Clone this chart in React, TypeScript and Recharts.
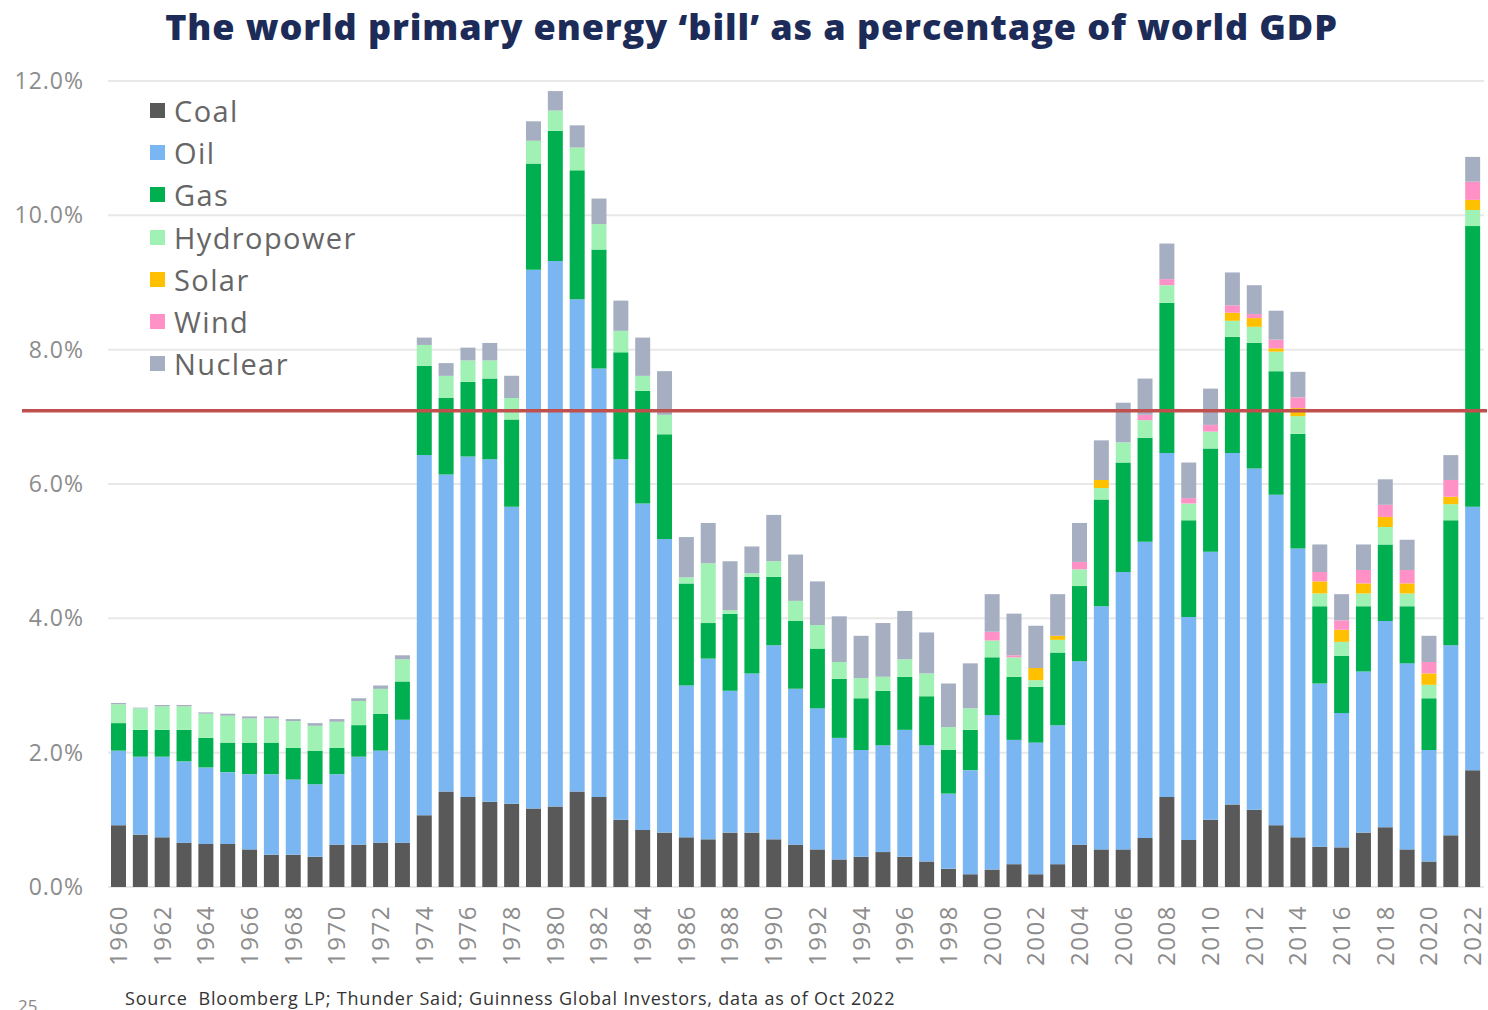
import { BarChart, Bar, XAxis, YAxis, CartesianGrid, ReferenceLine } from "recharts";

// years 1960 - 2022
const years = [
  "1960", "1961", "1962", "1963", "1964", "1965", "1966", "1967", "1968", "1969",
  "1970", "1971", "1972", "1973", "1974", "1975", "1976", "1977", "1978", "1979",
  "1980", "1981", "1982", "1983", "1984", "1985", "1986", "1987", "1988", "1989",
  "1990", "1991", "1992", "1993", "1994", "1995", "1996", "1997", "1998", "1999",
  "2000", "2001", "2002", "2003", "2004", "2005", "2006", "2007", "2008", "2009",
  "2010", "2011", "2012", "2013", "2014", "2015", "2016", "2017", "2018", "2019",
  "2020", "2021", "2022",
];

// % of world GDP, per energy source
const coal = [
  0.92, 0.78, 0.74, 0.66, 0.64, 0.64, 0.56, 0.48, 0.48, 0.45,
  0.63, 0.63, 0.66, 0.66, 1.07, 1.42, 1.34, 1.27, 1.24, 1.17,
  1.2, 1.42, 1.34, 1.0, 0.85, 0.81, 0.74, 0.71, 0.81, 0.81,
  0.71, 0.63, 0.56, 0.41, 0.45, 0.52, 0.45, 0.38, 0.27, 0.19,
  0.26, 0.34, 0.19, 0.34, 0.63, 0.56, 0.56, 0.73, 1.34, 0.7,
  1.0, 1.23, 1.15, 0.92, 0.74, 0.6, 0.59, 0.81, 0.89, 0.56,
  0.38, 0.77, 1.74,
];
const oil = [
  1.11, 1.16, 1.2, 1.21, 1.14, 1.07, 1.12, 1.2, 1.12, 1.08,
  1.05, 1.31, 1.37, 1.83, 5.36, 4.72, 5.07, 5.1, 4.42, 8.02,
  8.12, 7.33, 6.38, 5.37, 4.86, 4.37, 2.26, 2.69, 2.11, 2.37,
  2.89, 2.32, 2.1, 1.81, 1.59, 1.59, 1.89, 1.73, 1.12, 1.55,
  2.3, 1.85, 1.96, 2.07, 2.73, 3.62, 4.13, 4.41, 5.12, 3.32,
  3.99, 5.23, 5.08, 4.92, 4.3, 2.43, 2.0, 2.4, 3.07, 2.77,
  1.66, 2.83, 3.92,
];
const gas = [
  0.41, 0.4, 0.4, 0.47, 0.44, 0.44, 0.47, 0.47, 0.47, 0.5,
  0.39, 0.47, 0.55, 0.57, 1.33, 1.14, 1.11, 1.2, 1.3, 1.58,
  1.94, 1.92, 1.77, 1.59, 1.68, 1.56, 1.52, 0.53, 1.15, 1.44,
  1.02, 1.01, 0.89, 0.88, 0.77, 0.81, 0.79, 0.73, 0.65, 0.6,
  0.86, 0.94, 0.83, 1.08, 1.12, 1.59, 1.63, 1.55, 2.24, 1.44,
  1.54, 1.73, 1.87, 1.84, 1.71, 1.15, 0.85, 0.97, 1.14, 0.85,
  0.77, 1.86, 4.18,
];
const hydro = [
  0.28, 0.32, 0.35, 0.35, 0.36, 0.4, 0.36, 0.36, 0.4, 0.37,
  0.39, 0.36, 0.37, 0.33, 0.31, 0.33, 0.32, 0.27, 0.32, 0.34,
  0.3, 0.34, 0.38, 0.32, 0.22, 0.29, 0.09, 0.89, 0.05, 0.05,
  0.23, 0.3, 0.35, 0.25, 0.3, 0.21, 0.26, 0.34, 0.34, 0.32,
  0.25, 0.29, 0.1, 0.19, 0.25, 0.17, 0.3, 0.26, 0.26, 0.25,
  0.25, 0.24, 0.24, 0.29, 0.26, 0.19, 0.21, 0.19, 0.26, 0.19,
  0.2, 0.24, 0.24,
];
const solar = [
  0, 0, 0, 0, 0, 0, 0, 0, 0, 0,
  0, 0, 0, 0, 0, 0, 0, 0, 0, 0,
  0, 0, 0, 0, 0, 0, 0, 0, 0, 0,
  0, 0, 0, 0, 0, 0, 0, 0, 0, 0,
  0, 0, 0.18, 0.06, 0, 0.12, 0, 0, 0, 0,
  0, 0.12, 0.13, 0.05, 0.12, 0.18, 0.18, 0.15, 0.15, 0.15,
  0.17, 0.11, 0.15,
];
const wind = [
  0, 0, 0, 0, 0, 0, 0, 0, 0, 0,
  0, 0, 0, 0, 0, 0, 0, 0, 0, 0,
  0, 0, 0, 0, 0, 0, 0, 0, 0, 0,
  0, 0, 0, 0, 0, 0, 0, 0, 0, 0,
  0.13, 0.03, 0, 0, 0.11, 0, 0, 0.08, 0.09, 0.08,
  0.1, 0.11, 0.06, 0.13, 0.16, 0.14, 0.14, 0.2, 0.18, 0.2,
  0.17, 0.25, 0.27,
];
const nuclear = [
  0.02, 0.01, 0.02, 0.02, 0.02, 0.03, 0.03, 0.03, 0.03, 0.04,
  0.04, 0.04, 0.05, 0.06, 0.11, 0.19, 0.19, 0.26, 0.33, 0.29,
  0.29, 0.33, 0.38, 0.45, 0.57, 0.65, 0.6, 0.6, 0.73, 0.4,
  0.69, 0.69, 0.65, 0.68, 0.63, 0.8, 0.72, 0.61, 0.65, 0.67,
  0.56, 0.62, 0.63, 0.62, 0.58, 0.59, 0.59, 0.54, 0.53, 0.53,
  0.54, 0.49, 0.43, 0.43, 0.38, 0.41, 0.39, 0.38, 0.38, 0.45,
  0.39, 0.37, 0.37,
];

const yTicks = [0, 2, 4, 6, 8, 10, 12];
const threshold = 7.09;

const series = [
  { key: "coal", name: "Coal", color: "#595959" },
  { key: "oil", name: "Oil", color: "#79b6f2" },
  { key: "gas", name: "Gas", color: "#00b050" },
  { key: "hydro", name: "Hydropower", color: "#a0f2b4" },
  { key: "solar", name: "Solar", color: "#ffc000" },
  { key: "wind", name: "Wind", color: "#ff91c6" },
  { key: "nuclear", name: "Nuclear", color: "#a6afc1" },
];

const data = years.map((year, i) => ({
  year,
  coal: coal[i],
  oil: oil[i],
  gas: gas[i],
  hydro: hydro[i],
  solar: solar[i],
  wind: wind[i],
  nuclear: nuclear[i],
}));

const FONT = "'Open Sans', 'Noto Sans', sans-serif";

function YearTick({ x, y, payload }: any) {
  return (
    <text
      transform={`translate(${x + 8}, ${y + 10}) rotate(-90)`}
      textAnchor="end"
      fill="#8c8c8c"
      fontSize={24}
      letterSpacing={1.5}
      fontFamily={FONT}
    >
      {payload.value}
    </text>
  );
}

export default function App() {
  return (
    <div style={{ position: "absolute", left: 0, top: 0, width: 1488, height: 1010, overflow: "hidden", background: "#fff" }}>
      {/* TITLE */}
      <div
        style={{
          position: "absolute",
          top: 2,
          left: 0,
          width: 1503,
          textAlign: "center",
          fontFamily: FONT,
          fontWeight: 800,
          fontSize: 36,
          letterSpacing: 0.9,
          color: "#1d2b58",
          whiteSpace: "nowrap",
        }}
      >
        The world primary energy ‘bill’ as a percentage of world GDP
      </div>

      <BarChart width={1488} height={1010} data={data} margin={{ top: 81, right: 4, left: 0, bottom: 0 }}>
        <CartesianGrid vertical={false} stroke="#e8e8e8" strokeWidth={2} />
        <XAxis
          dataKey="year"
          interval={1}
          height={123}
          axisLine={false}
          tickLine={false}
          tick={<YearTick />}
        />
        <YAxis
          width={108}
          domain={[0, 12]}
          ticks={yTicks}
          axisLine={false}
          tickLine={false}
          tickSize={0}
          tickMargin={24}
          tickFormatter={(v) => `${v.toFixed(1)}%`}
          tick={{ fill: "#8c8c8c", fontSize: 23, fontFamily: FONT, letterSpacing: 1 }}
        />
        {series.map((s) => (
          <Bar key={s.key} dataKey={s.key} name={s.name} stackId="e" fill={s.color} barSize={15} isAnimationActive={false} />
        ))}
        <ReferenceLine
          y={threshold}
          shape={(p: any) => (
            <line x1={22} y1={p.y1} x2={p.x2 + 3} y2={p.y2} stroke="#c0504d" strokeWidth={3.5} />
          )}
        />
      </BarChart>

      {/* LEGEND */}
      <div style={{ position: "absolute", left: 150, top: 89, fontFamily: FONT }}>
        {series.map((s) => (
          <div key={s.key} style={{ display: "flex", alignItems: "center", height: 42.3 }}>
            <span style={{ width: 15, height: 15, background: s.color, marginRight: 9 }} />
            <span style={{ fontSize: 29, color: "#666", letterSpacing: 1.4 }}>{s.name}</span>
          </div>
        ))}
      </div>

      {/* SOURCE */}
      <div style={{ position: "absolute", left: 125, top: 986, fontFamily: FONT, fontSize: 18, letterSpacing: 0.8, color: "#333", whiteSpace: "nowrap" }}>
        Source&nbsp; Bloomberg LP; Thunder Said; Guinness Global Investors, data as of Oct 2022
      </div>
      <div style={{ position: "absolute", left: 18, top: 994, fontFamily: FONT, fontSize: 17, color: "#888" }}>25</div>
    </div>
  );
}
